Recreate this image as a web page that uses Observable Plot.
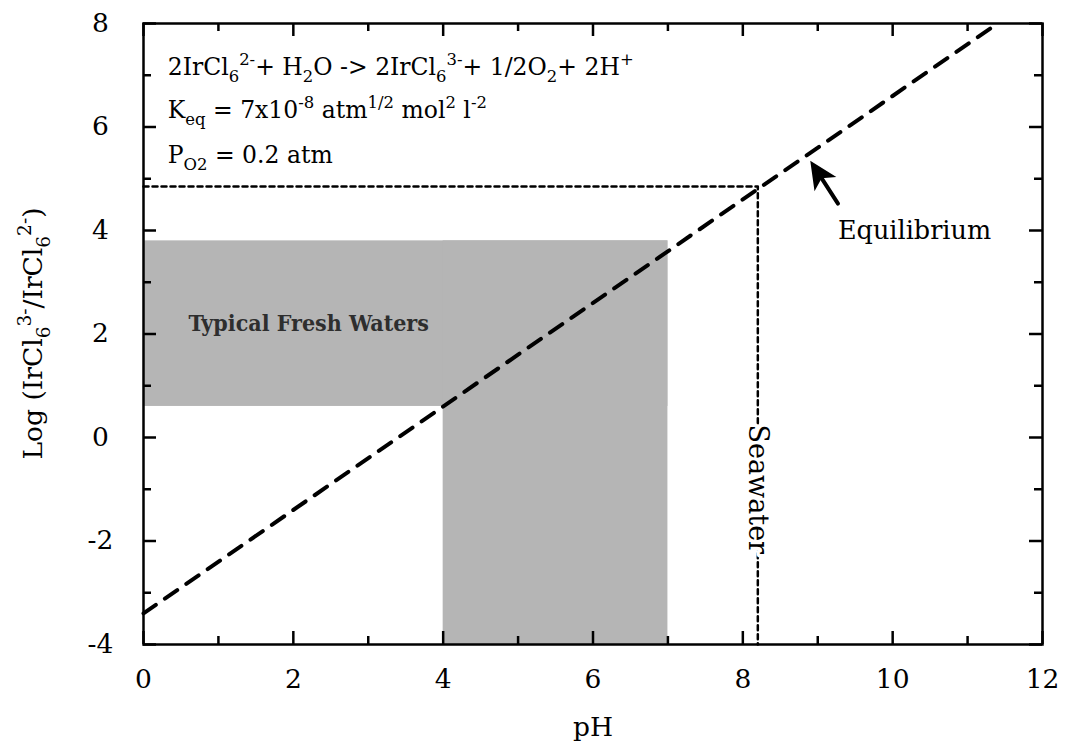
<!DOCTYPE html>
<html><head><meta charset="utf-8">
<script src="https://cdn.jsdelivr.net/npm/d3@7"></script>
<script src="https://cdn.jsdelivr.net/npm/@observablehq/plot@0.6"></script>
<style>
body{margin:0;background:#fff;}
svg{font-family:"DejaVu Serif",serif;}
</style>
</head><body><div id="chart"></div>
<script>
// ---- data ----
const xTicksMajor = [0, 2, 4, 6, 8, 10, 12];
const xTicksMinor = [1, 3, 5, 7, 9, 11];
const yTicksMajor = [-4, -2, 0, 2, 4, 6, 8];
const yTicksMinor = [-3, -1, 1, 3, 5, 7];
const equilibriumPH = [0, 11.4];
const equilibriumLog = [-3.4, 8.0];
const seawaterPH = [0, 8.2, 8.2];
const seawaterLog = [4.85, 4.85, -4];
const freshX1 = [0, 4];
const freshX2 = [7, 7];
const freshY1 = [0.6, -4];
const freshY2 = [3.8, 3.8];
const arrowTail = [9.27, 4.52];
const arrowTip = [8.9, 5.35];
const labelFresh = "Typical Fresh Waters";
const labelSeawater = "Seawater";
const labelEquilibrium = "Equilibrium";
const xLabel = "pH";
const eqLine1 = [["2IrCl",""],["6","sub"],["2-","sup"],["+ H",""],["2","sub"],["O -> 2IrCl",""],["6","sub"],["3-","sup"],["+ 1/2O",""],["2","sub"],["+ 2H",""],["+","sup"]];
const eqLine2 = [["K",""],["eq","sub"],[" = 7x10",""],["-8","sup"],[" atm",""],["1/2","sup"],[" mol",""],["2","sup"],[" l",""],["-2","sup"]];
const eqLine3 = [["P",""],["O2","sub"],[" = 0.2 atm",""]];
const yLabel = [["Log (IrCl",""],["6","sub"],["3-","sup"],["/IrCl",""],["6","sub"],["2-","sup"],[")",""]];

// ---- layout ----
const W = 1065, H = 753;
const mL = 143, mR = 23, mT = 23, mB = 109;
const fw = W - mL - mR, fh = H - mT - mB;

const sx = Plot.scale({x: {domain: [0, 12], range: [mL, W - mR]}});
const sy = Plot.scale({y: {domain: [-4, 8], range: [H - mB, mT]}});
const dxp = sx.apply(arrowTip[0]) - sx.apply(arrowTail[0]);
const dyp = sy.apply(arrowTip[1]) - sy.apply(arrowTail[1]);
const ang = Math.atan2(dyp, dxp);
const headSymbol = {
  draw(ctx) {
    const L = 28, Wd = 13, N = 7;
    const c = Math.cos(ang), s = Math.sin(ang);
    const pt = (u, v) => [u * c - v * s, u * s + v * c];
    const p0 = pt(0, 0), p1 = pt(-L, Wd), p2 = pt(-L + N, 0), p3 = pt(-L, -Wd);
    ctx.moveTo(p0[0], p0[1]); ctx.lineTo(p1[0], p1[1]); ctx.lineTo(p2[0], p2[1]); ctx.lineTo(p3[0], p3[1]); ctx.closePath();
  }
};

const fresh = freshX1.map((x1, i) => ({x1, x2: freshX2[i], y1: freshY1[i], y2: freshY2[i]}));
const eqPts = equilibriumPH.map((x, i) => ({x, y: equilibriumLog[i]}));
const swPts = seawaterPH.map((x, i) => ({x, y: seawaterLog[i]}));
const arrows = [{x1: arrowTail[0], y1: arrowTail[1], x2: arrowTip[0], y2: arrowTip[1]}];
const tickLen = 13, minorLen = 8, tickW = 2.5;

const plot = Plot.plot({
  width: W, height: H,
  marginLeft: mL, marginRight: mR, marginTop: mT, marginBottom: mB,
  x: {domain: [0, 12], axis: null},
  y: {domain: [-4, 8], axis: null},
  style: {fontFamily: "DejaVu Serif, serif", fontSize: "24px", background: "white", color: "black"},
  marks: [
    Plot.rect(fresh, {x1: "x1", x2: "x2", y1: "y1", y2: "y2", fill: "#b5b5b5"}),
    Plot.text([labelFresh], {x: 0.6, y: 2.2, text: d => d, textAnchor: "start", fontSize: 23, fontWeight: "bold", fill: "#2e2e2e",
      fontFamily: "DejaVu Serif Condensed, DejaVu Serif, serif"}),
    Plot.line(swPts, {x: "x", y: "y", stroke: "black", strokeWidth: 2.5, strokeDasharray: "5,4"}),
    Plot.line(eqPts, {x: "x", y: "y", stroke: "black", strokeWidth: 4, strokeDasharray: "15,11"}),
    Plot.text([labelSeawater], {x: 8.2, y: -1.0, text: d => d, rotate: 90, fontSize: 27, fill: "black", stroke: "white", strokeWidth: 7}),
    Plot.arrow(arrows, {x1: "x1", y1: "y1", x2: "x2", y2: "y2", stroke: "black", strokeWidth: 4, headLength: 0, insetEnd: 14}),
    Plot.dot(arrows, {x: "x2", y: "y2", r: 5, symbol: headSymbol, fill: "black", stroke: "none"}),
    Plot.text([labelEquilibrium], {x: 9.27, y: 4.0, text: d => d, textAnchor: "start", fontSize: 25.5}),
    // ticks (inward, all four sides)
    Plot.tickX(xTicksMajor, {x: d => d, insetTop: fh - tickLen, strokeWidth: tickW}),
    Plot.tickX(xTicksMinor, {x: d => d, insetTop: fh - minorLen, strokeWidth: tickW}),
    Plot.tickX(xTicksMajor, {x: d => d, insetBottom: fh - tickLen, strokeWidth: tickW}),
    Plot.tickX(xTicksMinor, {x: d => d, insetBottom: fh - minorLen, strokeWidth: tickW}),
    Plot.tickY(yTicksMajor, {y: d => d, insetRight: fw - tickLen, strokeWidth: tickW}),
    Plot.tickY(yTicksMinor, {y: d => d, insetRight: fw - minorLen, strokeWidth: tickW}),
    Plot.tickY(yTicksMajor, {y: d => d, insetLeft: fw - tickLen, strokeWidth: tickW}),
    Plot.tickY(yTicksMinor, {y: d => d, insetLeft: fw - minorLen, strokeWidth: tickW}),
    // tick labels
    Plot.text(xTicksMajor, {x: d => d, text: d => String(d), frameAnchor: "bottom", dy: 43, fontSize: 26.5}),
    Plot.text(yTicksMajor, {y: d => d, text: d => String(d), frameAnchor: "left", dx: -43, textAnchor: "middle", fontSize: 26.5}),
    Plot.text([xLabel], {text: d => d, frameAnchor: "bottom", dy: 91, fontSize: 26.5}),
    Plot.frame({stroke: "black", strokeWidth: 2.5})
  ]
});
document.getElementById("chart").appendChild(plot);

// rich text (sub/superscripts) drawn with the plot's scales
const svg = d3.select(plot);
function richText(parent, x, y, parts, size, anchor) {
  const t = parent.append("text").attr("x", x).attr("y", y).attr("font-size", size)
    .attr("fill", "black").attr("text-anchor", anchor || "start").style("white-space", "pre");
  let off = 0;
  for (const [s, m] of parts) {
    const target = m === "sub" ? 0.3 * size : m === "sup" ? -0.4 * size : 0;
    const ts = t.append("tspan").attr("dy", target - off).text(s);
    if (m) ts.attr("font-size", size * 0.7);
    off = target;
  }
  return t;
}
const xs = plot.scale("x"), ys = plot.scale("y");
richText(svg, xs.apply(0.33), ys.apply(7.0), eqLine1, 23.5);
richText(svg, xs.apply(0.33), ys.apply(6.17), eqLine2, 23.5);
richText(svg, xs.apply(0.33), ys.apply(5.3), eqLine3, 23.5);
const gY = svg.append("g").attr("transform", `translate(${mL - 110},${(mT + H - mB) / 2}) rotate(-90)`);
richText(gY, 0, 9, yLabel, 26.5, "middle");
</script>
</body></html>
